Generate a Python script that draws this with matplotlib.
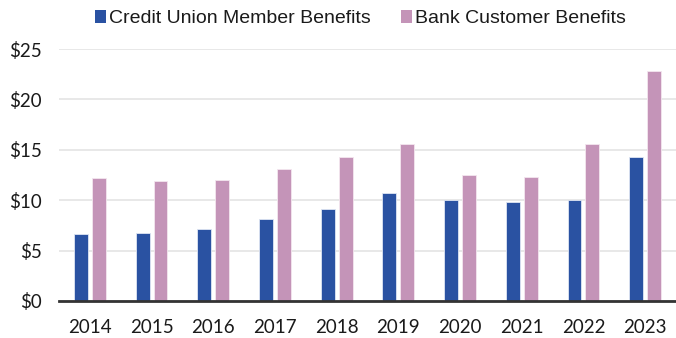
import matplotlib
matplotlib.use("Agg")
import matplotlib.pyplot as plt
import numpy as np
from matplotlib.patches import Patch

years = ["2014", "2015", "2016", "2017", "2018", "2019", "2020", "2021", "2022", "2023"]
credit_union = [6.6, 6.7, 7.1, 8.1, 9.1, 10.7, 10.0, 9.8, 10.0, 14.3]
bank = [12.2, 11.9, 12.0, 13.1, 14.3, 15.6, 12.5, 12.3, 15.6, 22.8]
yticks = [0, 5, 10, 15, 20, 25]
ytick_labels = ["$0", "$5", "$10", "$15", "$20", "$25"]
series_names = ["Credit Union Member Benefits", "Bank Customer Benefits"]

cu_color = "#2A52A2"
bank_color = "#C494B8"
text_color = "#1a1a1a"

fig = plt.figure(figsize=(6.76, 3.38), dpi=100)
ax = fig.add_axes([0.0873, 0.1095, 1.0 - 0.0873, 0.855 - 0.1095])

x = np.arange(len(years))
w = 0.225
off = 0.145
ax.bar(x - off, credit_union, width=w, color=cu_color, edgecolor="#dfe6f3", linewidth=0.6, zorder=3)
ax.bar(x + off, bank, width=w, color=bank_color, edgecolor="#f3e6ef", linewidth=0.6, zorder=3)

ax.set_xlim(-0.5, len(years) - 0.5)
ax.set_ylim(0, 25)
ax.set_yticks(yticks)
ax.set_yticklabels(ytick_labels)
ax.set_xticks(x)
ax.set_xticklabels(years)

for t in ax.get_xticklabels() + ax.get_yticklabels():
    t.set_fontfamily("Lato")
    t.set_fontsize(13.5)
    t.set_color(text_color)

ax.tick_params(axis="y", length=0, pad=12.5)
ax.tick_params(axis="x", length=0, pad=13)
ax.grid(axis="y", color="#e8e8e8", linewidth=1.4, zorder=0)
ax.set_axisbelow(True)
for s in ["top", "right", "left"]:
    ax.spines[s].set_visible(False)
ax.spines["bottom"].set_color("#333333")
ax.spines["bottom"].set_linewidth(2)
ax.spines["bottom"].set_zorder(4)

handles = [Patch(facecolor=cu_color, edgecolor="none"), Patch(facecolor=bank_color, edgecolor="none")]
leg = fig.legend(handles, series_names, loc="center left", bbox_to_anchor=(95 / 676, 0.944),
                 ncol=2, frameon=False, borderpad=0, borderaxespad=0,
                 handlelength=0.55, handleheight=0.6,
                 handletextpad=0.17, columnspacing=1.55,
                 prop={"family": "Liberation Sans", "size": 14})
for t in leg.get_texts():
    t.set_color(text_color)

fig.savefig("out.png", dpi=100)
